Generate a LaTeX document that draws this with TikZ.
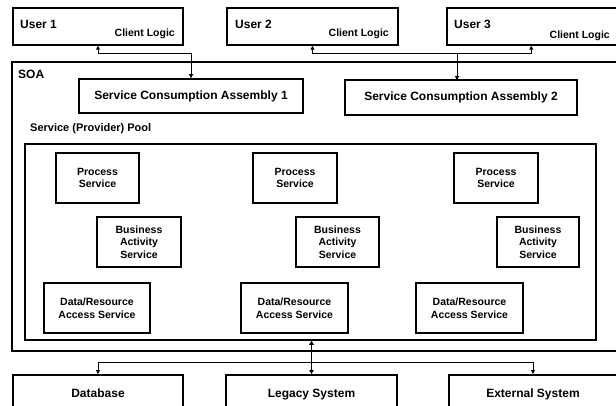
\documentclass[tikz,border=0pt]{standalone}
\usepackage{fontspec}
\setmainfont{Liberation Sans}
\usetikzlibrary{arrows.meta,calc}
\begin{document}
\begin{tikzpicture}[x=1pt,y=-1pt,
  frame/.style={draw,line width=1.5pt,inner sep=0pt},
  svc/.style={frame,font=\fontsize{10.5}{12.5}\selectfont\bfseries,align=center,minimum height=50pt},
  big/.style={frame,font=\fontsize{12}{14}\selectfont\bfseries},
  title/.style={font=\fontsize{12}{14}\selectfont\bfseries,inner sep=0pt},
  small/.style={font=\fontsize{10.5}{12}\selectfont\bfseries,inner sep=0pt},
  conn/.style={line width=0.9pt,{Triangle[length=4pt,width=4pt]}-{Triangle[length=4pt,width=4pt]}},
  onearr/.style={line width=0.9pt,-{Triangle[length=4pt,width=4pt]}},
  thickconn/.style={line width=1.6pt,{Triangle[length=4pt,width=4.5pt]}-{Triangle[length=4pt,width=4.5pt]}}]
\clip (0,0) rectangle (616,406);
\fill[white] (0,0) rectangle (616,406);

% users
\node[frame,minimum width=170pt,minimum height=37pt] (u1) at (98,26.5) {};
\node[frame,minimum width=171pt,minimum height=37pt] (u2) at (312.5,26.5) {};
\node[frame,minimum width=190pt,minimum height=37pt] (u3) at (542,26.5) {};
\node[title,anchor=base west] (u1t) at (20,28.5) {User 1};
\node[title,anchor=base west] (u2t) at (235,28.5) {User 2};
\node[title,anchor=base west] (u3t) at (454,28.5) {User 3};
\node[small,anchor=base east] (u1c) at (175,37) {Client Logic};
\node[small,anchor=base east] (u2c) at (389,37) {Client Logic};
\node[small,anchor=base east] (u3c) at (610,38.5) {Client Logic};

% SOA
\node[frame,minimum width=640pt,minimum height=289pt] (soa) at (332,206.5) {};
\node[title,anchor=base west] (soat) at (18,78.5) {SOA};
\node[big,minimum width=224pt,minimum height=34pt] (sca1) at (191,96) {Service Consumption Assembly 1};
\node[big,minimum width=232pt,minimum height=35pt] (sca2) at (461,97.5) {Service Consumption Assembly 2};
\node[font=\fontsize{11}{13}\selectfont\bfseries,inner sep=0pt,anchor=base west] (poolt) at (30,132) {Service (Provider) Pool};
\node[frame,minimum width=571pt,minimum height=196pt] (pool) at (310.5,242) {};

% services
\node[svc,minimum width=83pt] (p1) at (97.5,178) {Process\\Service};
\node[svc,minimum width=84pt] (p2) at (295,178) {Process\\Service};
\node[svc,minimum width=84pt] (p3) at (496,178) {Process\\Service};
\node[svc,minimum width=84pt] (b1) at (139,242) {Business\\Activity\\Service};
\node[svc,minimum width=83pt] (b2) at (337.5,242) {Business\\Activity\\Service};
\node[svc,minimum width=82pt] (b3) at (538,242) {Business\\Activity\\Service};
\node[svc,minimum width=106pt] (d1) at (97,308) {Data/Resource\\Access Service};
\node[svc,minimum width=107pt] (d2) at (294.5,308) {Data/Resource\\Access Service};
\node[svc,minimum width=107pt] (d3) at (469.5,308) {Data/Resource\\Access Service};

% backends
\node[big,minimum width=170pt,minimum height=60pt,anchor=north] (db) at (98,374) {};
\node[big,minimum width=171pt,minimum height=60pt,anchor=north] (leg) at (311.5,374) {};
\node[big,minimum width=190pt,minimum height=60pt,anchor=north west] (ext) at (448,374) {};
\node[title,anchor=base] (dbt) at (98,397.5) {Database};
\node[title,anchor=base] (legt) at (311.5,397.5) {Legacy System};
\node[title,anchor=base] (extt) at (533,397.5) {External System};

% connectors top
\coordinate (u3a) at ($(u3.south west)+(85,0)$);
\coordinate (j2) at (457,53);
\coordinate (s2top) at (457,80);
\draw[conn] (u1.south) -- ++(0,8) -| (sca1.north);
\draw[conn] (u2.south) -- (u2.south |- j2) -- (u3a |- j2) -- (u3a);
\draw[onearr] (j2) -- (s2top);

% connectors bottom
\coordinate (exta) at (533,374);
\draw[thickconn] (leg.north |- pool.south) -- (leg.north);
\draw[conn] (db.north) -- ++(0,-12) -- ($(exta)+(0,-12)$) -- (exta);
\end{tikzpicture}
\end{document}
